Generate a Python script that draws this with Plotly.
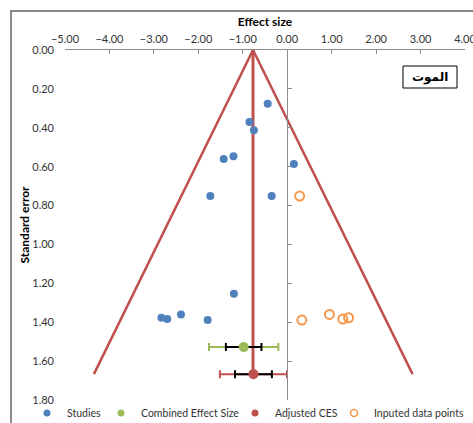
import plotly.graph_objects as go

# ---------------- data ----------------
study_es = [-0.44, -0.85, -0.75, -1.21, -1.43, 0.15, -1.73, -0.35, -1.20, -2.83, -2.70, -2.39, -1.79]
study_se = [0.276, 0.370, 0.413, 0.547, 0.561, 0.586, 0.751, 0.751, 1.253, 1.377, 1.384, 1.360, 1.389]
imputed_es = [0.28, 0.33, 0.95, 1.25, 1.38]
imputed_se = [0.751, 1.389, 1.360, 1.384, 1.377]
ces_es = [-0.98]
ces_se = [1.528]
ces_ci_outer = [0.78]
ces_ci_inner = [0.40]
adj_es = [-0.76]
adj_se = [1.667]
adj_ci_outer = [0.755]
adj_ci_inner = [0.415]
funnel_x = [-4.35, -0.77, 2.82]
funnel_y = [1.667, 0.0, 1.667]
center_x = [-0.77, -0.77]
center_y = [0.0, 1.667]
x_ticks = [-5, -4, -3, -2, -1, 0, 1, 2, 3, 4]
y_ticks = [0.0, 0.2, 0.4, 0.6, 0.8, 1.0, 1.2, 1.4, 1.6, 1.8]
legend_names = ["Studies", "Combined Effect Size", "Adjusted CES", "Inputed data points"]
label_text = "الموت"

BLUE = "#4F81BD"
RED = "#C0504D"
GREEN = "#9BBB59"
ORANGE = "#F79646"
GRAY = "#8C8C8C"
FONT = "Lato"

W, H = 473, 423
L, R, T, B = 65, 8, 50, 23
pw, ph = W - L - R, H - T - B

def px(xp):
    return (xp - L) / pw

def py(yp):
    return (H - B - yp) / ph

fig = go.Figure()

# funnel
fig.add_trace(go.Scatter(x=funnel_x, y=funnel_y, mode="lines",
                         line=dict(color=RED, width=2.5), showlegend=False, hoverinfo="skip"))
fig.add_trace(go.Scatter(x=center_x, y=center_y, mode="lines",
                         line=dict(color=RED, width=3), showlegend=False, hoverinfo="skip"))

# studies
fig.add_trace(go.Scatter(x=study_es, y=study_se, mode="markers", name=legend_names[0],
                         marker=dict(color=BLUE, size=8), showlegend=False))
# imputed
fig.add_trace(go.Scatter(x=imputed_es, y=imputed_se, mode="markers", name=legend_names[3],
                         marker=dict(color=ORANGE, size=9, symbol="circle-open",
                                     line=dict(color=ORANGE, width=2)), showlegend=False))

# combined effect size
fig.add_trace(go.Scatter(x=ces_es, y=ces_se, mode="markers", showlegend=False,
                         marker=dict(color="rgba(0,0,0,0)", size=1),
                         error_x=dict(type="data", array=ces_ci_outer, color=GREEN, thickness=2, width=4)))
fig.add_trace(go.Scatter(x=ces_es, y=ces_se, mode="markers", showlegend=False,
                         marker=dict(color="rgba(0,0,0,0)", size=1),
                         error_x=dict(type="data", array=ces_ci_inner, color="black", thickness=2, width=4)))
fig.add_trace(go.Scatter(x=ces_es, y=ces_se, mode="markers", name=legend_names[1],
                         marker=dict(color=GREEN, size=10), showlegend=False))

# adjusted CES
fig.add_trace(go.Scatter(x=adj_es, y=adj_se, mode="markers", showlegend=False,
                         marker=dict(color="rgba(0,0,0,0)", size=1),
                         error_x=dict(type="data", array=adj_ci_outer, color=RED, thickness=2, width=4)))
fig.add_trace(go.Scatter(x=adj_es, y=adj_se, mode="markers", showlegend=False,
                         marker=dict(color="rgba(0,0,0,0)", size=1),
                         error_x=dict(type="data", array=adj_ci_inner, color="black", thickness=2, width=4)))
fig.add_trace(go.Scatter(x=adj_es, y=adj_se, mode="markers", name=legend_names[2],
                         marker=dict(color=RED, size=10), showlegend=False))

# legend entries (small symbols like the original legend)
leg_markers = [
    dict(color=BLUE, size=7),
    dict(color=GREEN, size=7),
    dict(color=RED, size=7),
    dict(color=ORANGE, size=7, symbol="circle-open", line=dict(color=ORANGE, width=1.5)),
]
leg_ids = ["legend", "legend2", "legend3", "legend4"]
for nm, mk, lid in zip(legend_names, leg_markers, leg_ids):
    fig.add_trace(go.Scatter(x=[None], y=[None], mode="markers", name=nm, marker=mk,
                             legend=lid, showlegend=True))

# dummy trace for the y axis drawn at x = 0
fig.add_trace(go.Scatter(x=[], y=[], yaxis="y2", showlegend=False))

tickfont = dict(family=FONT, size=11, color="#333333")
leg_y = py(413)

def legend_at(marker_px):
    return dict(x=px(marker_px - 20), y=leg_y, xanchor="left", yanchor="middle",
                orientation="h", bgcolor="rgba(0,0,0,0)", borderwidth=0,
                font=dict(family=FONT, size=10.5, color="#333333"))

fig.update_layout(
    width=W, height=H,
    margin=dict(l=L, r=R, t=T, b=B, autoexpand=False),
    plot_bgcolor="white", paper_bgcolor="white",
    xaxis=dict(range=[-5, 4], side="top", tickvals=x_ticks, tickformat=".2f",
               showline=True, linecolor=GRAY, linewidth=1, ticks="inside", ticklen=4,
               tickcolor=GRAY, showgrid=False, zeroline=False, tickfont=tickfont,
               ticklabelstandoff=2, ticklabeloverflow="allow",
               title=dict(text="<b>Effect size</b>", font=dict(family=FONT, size=12, color="black"),
                          standoff=2)),
    yaxis=dict(range=[1.8, 0], tickvals=y_ticks, tickformat=".2f", showline=False,
               ticks="", showgrid=False, zeroline=False, tickfont=tickfont,
               ticklabelstandoff=10,
               title=dict(text="<b>Standard error</b>", font=dict(family=FONT, size=12, color="black"),
                          standoff=0)),
    yaxis2=dict(range=[1.8, 0], overlaying="y", anchor="free", position=px(287),
                tickvals=y_ticks, showticklabels=False, showline=True, linecolor=GRAY,
                linewidth=1, ticks="inside", ticklen=4, tickcolor=GRAY, showgrid=False,
                zeroline=False),
    legend=legend_at(47),
    legend2=legend_at(121),
    legend3=legend_at(255),
    legend4=legend_at(354),
    shapes=[
        dict(type="rect", xref="paper", yref="paper", x0=px(11), x1=1.3, y0=-0.4, y1=py(11),
             line=dict(color="#8A8A8A", width=2)),
        dict(type="rect", xref="paper", yref="paper", x0=px(403), x1=px(457), y0=py(88), y1=py(66),
             line=dict(color="black", width=1), fillcolor="white"),
    ],
    annotations=[
        dict(text="<b>" + label_text + "</b>", xref="paper", yref="paper", x=px(430), y=py(77),
             showarrow=False, font=dict(family="DejaVu Sans", size=12, color="black"),
             xanchor="center", yanchor="middle"),
    ],
)

fig.write_html("out.html")
